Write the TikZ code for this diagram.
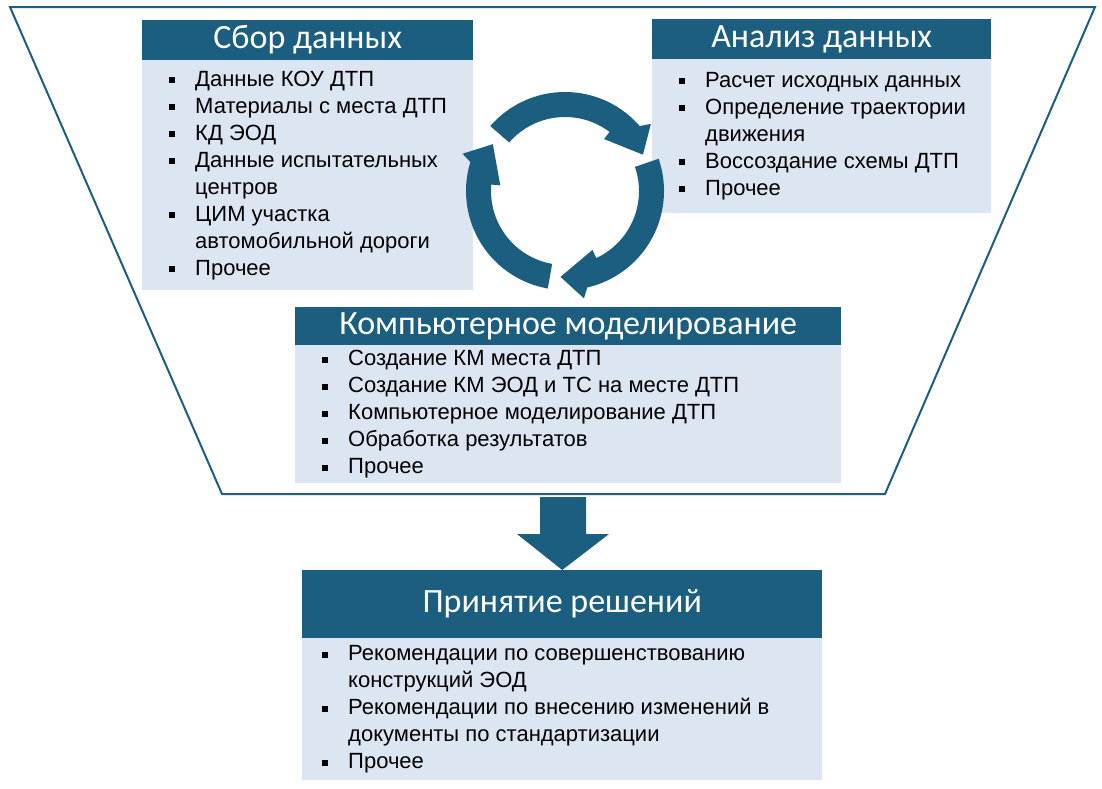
\documentclass[tikz,border=0pt]{standalone}
\usepackage{fontspec}
\setmainfont{Liberation Sans}
\newfontfamily\headfont{Carlito}
\usetikzlibrary{calc}
\definecolor{hdblue}{RGB}{27,94,128}
\definecolor{bdblue}{RGB}{220,230,242}
\newcommand{\bul}{\makebox[26pt][l]{\rule[3pt]{6pt}{6pt}}}
\newcommand{\cnt}{\hspace*{26pt}}
\tikzset{
  head/.style={fill=hdblue,text=white,inner sep=0pt,font=\headfont\fontsize{34}{38}\selectfont},
  body/.style={fill=bdblue,inner sep=0pt},
  items/.style={align=left,inner sep=0pt,font=\fontsize{22}{27}\selectfont},
}
\begin{document}
\begin{tikzpicture}[x=1pt,y=-1pt]
  \useasboundingbox (0,0) rectangle (1102,788);
  % funnel
  \filldraw[fill=white,draw=hdblue,line width=2pt] (10,7) -- (1095,7) -- (885,494) -- (222,494) -- cycle;
  \coordinate (fbot) at (563,495);
  % data collection
  \node[body,anchor=north west,minimum width=331pt,minimum height=230pt] (sborb) at (142,60) {};
  \node[head,anchor=north west,minimum width=331pt,minimum height=40pt] (sbor) at (142,20) {Сбор данных};
  \node[items,anchor=west] (sbort) at ($(sborb.west)+(27,0)$) {\bul Данные КОУ ДТП\\
    \bul Материалы с места ДТП\\
    \bul КД ЭОД\\
    \bul Данные испытательных\\
    \cnt центров\\
    \bul ЦИМ участка\\
    \cnt автомобильной дороги\\
    \bul Прочее};
  % data analysis
  \node[body,anchor=north west,minimum width=339pt,minimum height=154pt] (analb) at (652,59) {};
  \node[head,anchor=north west,minimum width=339pt,minimum height=40pt] (anal) at (652,19) {Анализ данных};
  \node[items,anchor=west] (analt) at ($(analb.west)+(27,0)$) {\bul Расчет исходных данных\\
    \bul Определение траектории\\
    \cnt движения\\
    \bul Воссоздание схемы ДТП\\
    \bul Прочее};
  % cycle arrows
  \begin{scope}[shift={(565,191)},x=1pt,y=1pt]
    \foreach \t/\b/\p in {139/53/25, 19/-65/-93, -100/-185/-213}
      \fill[hdblue] (\t:99) arc[start angle=\t,end angle=\b-12,radius=99] -- ({\b-15}:109) -- (\p:86)
        -- (\b:65) -- (\b:74) arc[start angle=\b,end angle=\t,radius=74] -- cycle;
  \end{scope}
  % computer modelling
  \node[body,anchor=north west,minimum width=546pt,minimum height=138pt] (modb) at (295,345) {};
  \node[head,anchor=north west,minimum width=546pt,minimum height=38pt] (mod) at (295,307) {Компьютерное моделирование};
  \node[items,anchor=west] (modt) at ($(modb.west)+(27,0)$) {\bul Создание КМ места ДТП\\
    \bul Создание КМ ЭОД и ТС на месте ДТП\\
    \bul Компьютерное моделирование ДТП\\
    \bul Обработка результатов\\
    \bul Прочее};
  % decisions
  \node[head,anchor=north west,minimum width=520pt,minimum height=68pt] (dec) at (302,570) {Принятие решений};
  \node[body,anchor=north west,minimum width=520pt,minimum height=142pt] (decb) at (302,638) {};
  \node[items,anchor=west] (dect) at ($(decb.west)+(20,0)$) {\bul Рекомендации по совершенствованию\\
    \cnt конструкций ЭОД\\
    \bul Рекомендации по внесению изменений в\\
    \cnt документы по стандартизации\\
    \bul Прочее};
  % block arrow
  \fill[hdblue] ($(fbot)+(-23,2)$) -- ($(fbot)+(23,2)$) -- ($(fbot)+(23,39)$) -- ($(fbot)+(46,39)$)
    -- (dec.north) -- ($(fbot)+(-46,39)$) -- ($(fbot)+(-23,39)$) -- cycle;
\end{tikzpicture}
\end{document}
